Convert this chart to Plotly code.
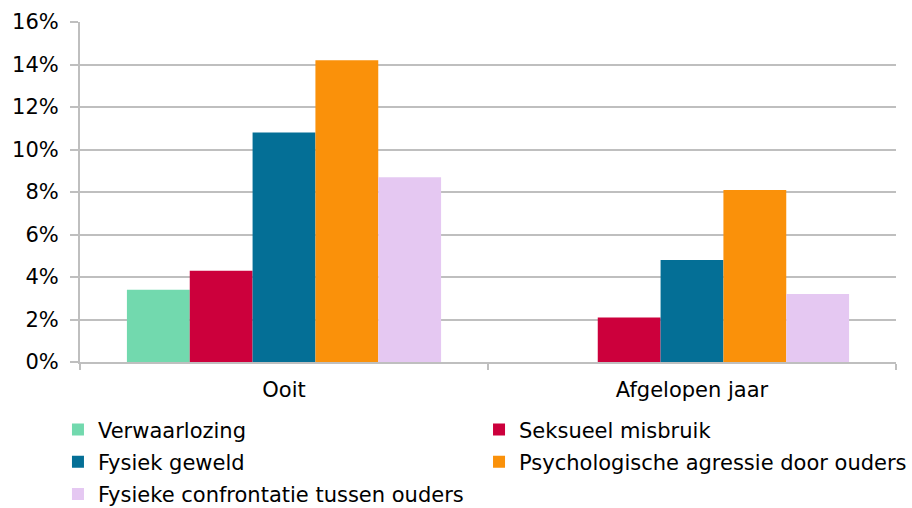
import plotly.graph_objects as go

categories = ["Ooit", "Afgelopen jaar"]
series_names = [
    "Verwaarlozing",
    "Seksueel misbruik",
    "Fysiek geweld",
    "Psychologische agressie door ouders",
    "Fysieke confrontatie tussen ouders",
]
verwaarlozing = [0.034, None]
seksueel_misbruik = [0.043, 0.021]
fysiek_geweld = [0.108, 0.048]
psychologische_agressie = [0.142, 0.081]
fysieke_confrontatie = [0.087, 0.032]
colors = ["#72D9AE", "#CC003C", "#046F96", "#FA910A", "#E5C8F2"]
legend_column = ["legend", "legend2", "legend", "legend2", "legend"]

values = [verwaarlozing, seksueel_misbruik, fysiek_geweld,
          psychologische_agressie, fysieke_confrontatie]

font_family = "DejaVu Sans"
fig = go.Figure()
for name, vals, col, leg in zip(series_names, values, colors, legend_column):
    fig.add_trace(go.Bar(x=categories, y=vals, name=name, legend=leg,
                         legendgroup=name,
                         marker=dict(color=col, line=dict(width=0))))

legend_common = dict(
    orientation="v",
    yanchor="top", y=-0.1393,
    xanchor="left",
    font=dict(family=font_family, size=21, color="#000000"),
    itemwidth=30,
    traceorder="grouped",
    tracegroupgap=2,
    bgcolor="rgba(0,0,0,0)",
)

fig.update_layout(
    width=912, height=508,
    margin=dict(l=80, r=16, t=21.5, b=145.5, autoexpand=False),
    paper_bgcolor="white", plot_bgcolor="white",
    barmode="group", bargap=0.23, bargroupgap=0,
    font=dict(family=font_family, size=21, color="#000000"),
    showlegend=True,
    legend=dict(x=-0.027, **legend_common),
    legend2=dict(x=0.489, **legend_common),
    xaxis=dict(
        type="category",
        showline=True, linecolor="#BFBFBF", linewidth=2,
        ticks="outside", tickson="boundaries", ticklen=6,
        tickcolor="#BFBFBF", tickwidth=2,
        ticklabelstandoff=8,
        showgrid=False,
    ),
    yaxis=dict(
        range=[0, 0.16], dtick=0.02, tickformat=".0%",
        showline=True, linecolor="#BFBFBF", linewidth=2,
        ticks="outside", ticklen=8, tickcolor="#BFBFBF", tickwidth=2,
        ticklabelstandoff=7,
        showgrid=True, gridcolor="#BFBFBF", gridwidth=2,
        zeroline=False,
    ),
)

# remove the default 8px page margin so the 912x508 figure fills the window exactly
fig.write_html(
    "out.html",
    config={"displayModeBar": False},
    post_script="document.body.style.margin='0px';document.body.style.overflow='hidden';",
)
